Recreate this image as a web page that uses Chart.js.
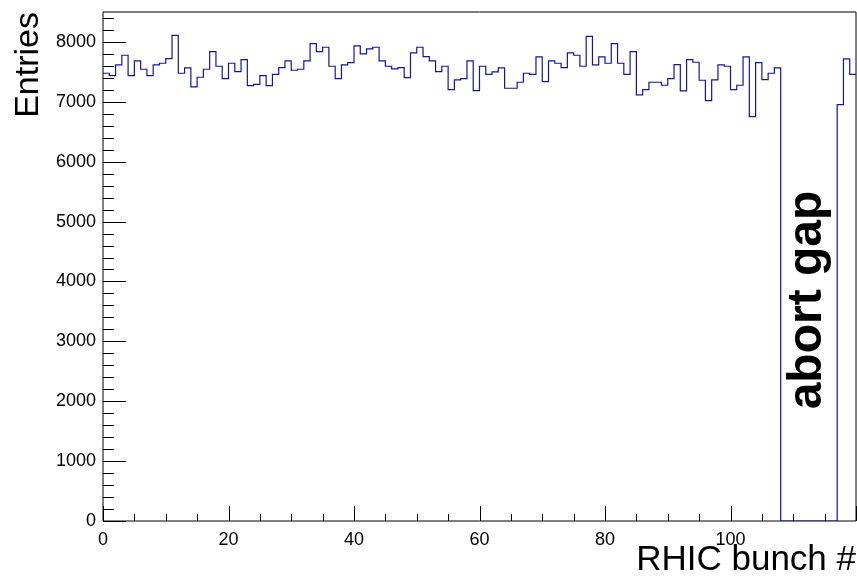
<!DOCTYPE html>
<html>
<head>
<meta charset="utf-8">
<script src="https://cdn.jsdelivr.net/npm/chart.js@4.4.1/dist/chart.umd.min.js"></script>
<style>
  html, body { margin: 0; padding: 0; background: #fff; }
  #wrap { width: 857px; height: 576px; }
</style>
</head>
<body>
<div id="wrap"><canvas id="c"></canvas></div>
<script>
// entries per RHIC bunch crossing, bins 0..119 (108-116 = abort gap)
const entries = [
  7477, 7438, 7616, 7778, 7438, 7683, 7544, 7438, 7616, 7644,
  7722, 8111, 7477, 7566, 7249, 7410, 7544, 7838, 7594, 7388,
  7644, 7505, 7705, 7271, 7293, 7438, 7271, 7460, 7572, 7683,
  7527, 7544, 7683, 7972, 7838, 7911, 7594, 7388, 7616, 7655,
  7933, 7800, 7883, 7911, 7683, 7594, 7549, 7572, 7404, 7816,
  7911, 7755, 7683, 7505, 7594, 7204, 7365, 7388, 7683, 7187,
  7594, 7460, 7499, 7566, 7227, 7227, 7327, 7477, 7460, 7750,
  7338, 7683, 7644, 7572, 7816, 7778, 7594, 8094, 7616, 7750,
  7644, 7972, 7644, 7460, 7838, 7115, 7204, 7327, 7327, 7277,
  7388, 7622, 7182, 7705, 7661, 7360, 7020, 7365, 7616, 7594,
  7204, 7277, 7750, 6752, 7655, 7371, 7477, 7566, 0, 0,
  0, 0, 0, 0, 0, 0, 0, 6953, 7716, 7460
];
const xTickValues = [0, 20, 40, 60, 80, 100];
const yTickValues = [0, 1000, 2000, 3000, 4000, 5000, 6000, 7000, 8000];
const xTitle = 'RHIC bunch #';
const yTitle = 'Entries';
const gapLabel = 'abort gap';

const FONT = '"Liberation Sans", Arial, Helvetica, sans-serif';
const X_MAX = 120, Y_MAX = 8500;

// histogram outline: one point per bin low edge, plus the upper edge of the last bin
const points = entries.map((v, i) => ({ x: i, y: v }));
points.push({ x: entries.length, y: entries[entries.length - 1] });

// ROOT style frame + inside ticks
const rootAxes = {
  id: 'rootAxes',
  beforeDatasetsDraw(chart) {
    const { ctx, chartArea: a, scales: { x, y } } = chart;
    ctx.save();
    ctx.strokeStyle = '#000';
    ctx.lineWidth = 1;
    ctx.beginPath();
    ctx.rect(a.left, a.top, a.right - a.left, a.bottom - a.top);
    for (let v = 0; v <= X_MAX; v += 5) {
      const px = Math.round(x.getPixelForValue(v)) + 0.5;
      const len = v % 20 === 0 ? 15 : 7;
      ctx.moveTo(px, a.bottom);
      ctx.lineTo(px, a.bottom - len);
    }
    for (let v = 0; v <= Y_MAX; v += 200) {
      const py = Math.round(y.getPixelForValue(v)) + 0.5;
      const len = v % 1000 === 0 ? 23 : 11;
      ctx.moveTo(a.left, py);
      ctx.lineTo(a.left + len, py);
    }
    ctx.stroke();
    ctx.restore();
  },
  afterDraw(chart) {
    const { ctx, scales: { x, y } } = chart;
    ctx.save();
    ctx.translate(x.getPixelForValue(114.4), y.getPixelForValue(3690));
    ctx.rotate(-Math.PI / 2);
    ctx.font = 'bold 48px ' + FONT;
    ctx.fillStyle = '#000';
    ctx.textAlign = 'center';
    ctx.textBaseline = 'alphabetic';
    ctx.fillText(gapLabel, 0, 0);
    ctx.restore();
  }
};

new Chart(document.getElementById('c'), {
  type: 'line',
  data: {
    datasets: [{
      data: points,
      stepped: 'before',
      borderColor: '#1414a0',
      borderWidth: 1.2,
      pointRadius: 0,
      fill: false,
      tension: 0
    }]
  },
  options: {
    responsive: true,
    maintainAspectRatio: false,
    animation: false,
    layout: { padding: { left: 0, right: 1, top: 12, bottom: 0 } },
    plugins: { legend: { display: false }, tooltip: { enabled: false } },
    scales: {
      x: {
        type: 'linear',
        min: 0,
        max: X_MAX,
        grid: { display: false, drawTicks: false },
        border: { display: false },
        afterBuildTicks: s => { s.ticks = xTickValues.map(v => ({ value: v })); },
        afterFit: s => { s.height = 55; s.paddingLeft = 0; s.paddingRight = 0; },
        ticks: {
          color: '#000', padding: 8, maxRotation: 0,
          font: { family: FONT, size: 18 },
          callback: v => String(v)
        },
        title: {
          display: true, text: xTitle, align: 'end', color: '#000',
          font: { family: FONT, size: 35, lineHeight: 0.886 }, padding: 0
        }
      },
      y: {
        min: 0,
        max: Y_MAX,
        grid: { display: false, drawTicks: false },
        border: { display: false },
        afterBuildTicks: s => { s.ticks = yTickValues.map(v => ({ value: v })); },
        afterFit: s => { s.width = 103; s.paddingTop = 0; s.paddingBottom = 0; },
        ticks: {
          color: '#000', padding: 7,
          font: { family: FONT, size: 18 },
          callback: v => String(v)
        },
        title: {
          display: true, text: yTitle, align: 'end', color: '#000',
          font: { family: FONT, size: 34, lineHeight: 1 }, padding: { top: 12, bottom: 0 }
        }
      }
    }
  },
  plugins: [rootAxes]
});
</script>
</body>
</html>
